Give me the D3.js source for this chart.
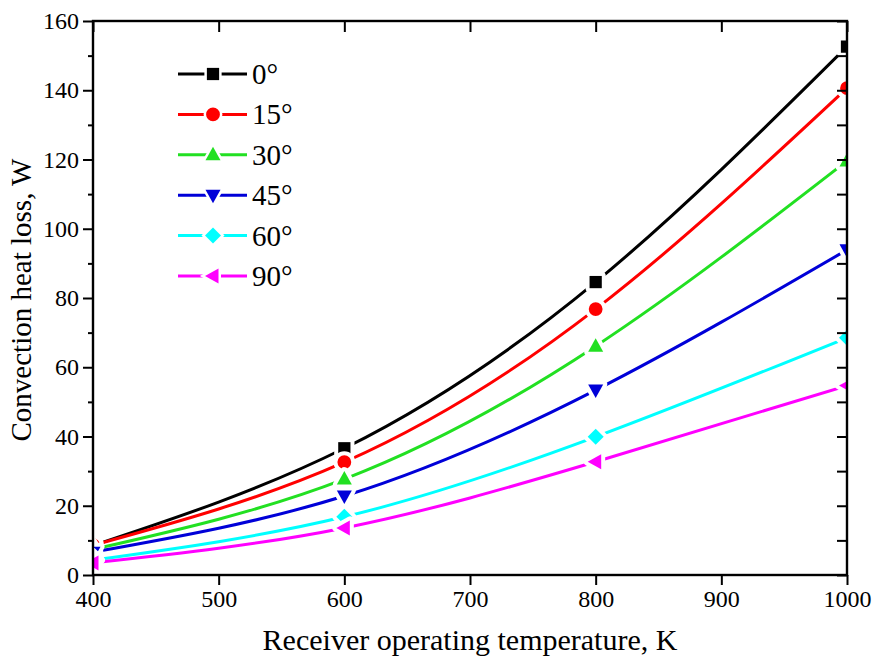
<!DOCTYPE html>
<html>
<head>
<meta charset="utf-8">
<script src="https://cdn.jsdelivr.net/npm/d3@7"></script>
<style>
  body { margin: 0; background: #fff; }
  svg text { font-family: "Liberation Serif", "Times New Roman", serif; }
</style>
</head>
<body>
<div id="chart"></div>
<script>
// data
var temps = [400, 600, 800, 1000];
var angles = ["0°", "15°", "30°", "45°", "60°", "90°"];
var loss0 = [8.5, 36.6, 84.6, 152.6];
var loss15 = [8.6, 32.6, 76.8, 140.6];
var loss30 = [7.4, 27.7, 66.1, 119.6];
var loss45 = [6.6, 22.8, 53.4, 93.9];
var loss60 = [4.3, 16.8, 39.9, 68.5];
var loss90 = [3.5, 13.6, 32.7, 54.7];
var xTicks = [400, 500, 600, 700, 800, 900, 1000];
var yTicks = [0, 20, 40, 60, 80, 100, 120, 140, 160];

var colors = ["#000000", "#ff0000", "#22e022", "#0000d8", "#00ffff", "#ff00ff"];
var shapes = ["square", "circle", "up", "down", "diamond", "left"];
var series = [loss0, loss15, loss30, loss45, loss60, loss90];

// set the dimensions and margins of the graph
var margin = {top: 21, right: 26, bottom: 86, left: 93},
    width = 873 - margin.left - margin.right,
    height = 661 - margin.top - margin.bottom;

var svg = d3.select("#chart")
  .append("svg")
    .attr("width", 873)
    .attr("height", 661)
  .append("g")
    .attr("transform", "translate(" + margin.left + "," + margin.top + ")");

var x = d3.scaleLinear().domain([400, 1000]).range([0, width]);
var y = d3.scaleLinear().domain([0, 160]).range([height, 0]);

svg.append("clipPath").attr("id", "plotclip")
  .append("rect").attr("width", width).attr("height", height);

// marker path for each shape
function markerPath(shape) {
  if (shape == "square") return d3.symbol(d3.symbolSquare, 150)();
  if (shape == "circle") return d3.symbol(d3.symbolCircle, 150)();
  if (shape == "diamond") return "M0,-8L8,0L0,8L-8,0Z";
  if (shape == "up") return "M0,-8L7.5,5.5L-7.5,5.5Z";
  if (shape == "down") return "M0,8L7.5,-5.5L-7.5,-5.5Z";
  return "M-8,0L5.5,-7.5L5.5,7.5Z";
}

var line = d3.line()
  .x(function (d, i) { return x(temps[i]); })
  .y(function (d) { return y(d); })
  .curve(d3.curveNatural);

var plot = svg.append("g").attr("clip-path", "url(#plotclip)");

series.forEach(function (s, k) {
  plot.append("path")
    .datum(s)
    .attr("d", line)
    .attr("fill", "none")
    .attr("stroke", colors[k])
    .attr("stroke-width", 3);
});

// markers with a white halo so the lines stop short of them
series.forEach(function (s, k) {
  plot.selectAll(".m" + k)
    .data(s)
    .enter()
    .append("path")
      .attr("class", "m" + k)
      .attr("d", markerPath(shapes[k]))
      .attr("transform", function (d, i) { return "translate(" + x(temps[i]) + "," + y(d) + ")"; })
      .attr("fill", colors[k])
      .attr("stroke", "white")
      .attr("stroke-width", 8)
      .attr("stroke-linejoin", "round")
      .style("paint-order", "stroke");
});

// Axes: bottom and left outward ticks, top and right inward
svg.append("g")
  .attr("transform", "translate(0," + height + ")")
  .call(d3.axisBottom(x).tickValues(xTicks).tickSize(10).tickPadding(5).tickFormat(d3.format("d")));

svg.append("g")
  .call(d3.axisLeft(y).tickValues(yTicks).tickSize(10).tickPadding(4).tickFormat(d3.format("d")));

// minor ticks on left
svg.append("g")
  .call(d3.axisLeft(y).tickValues(d3.range(10, 160, 20)).tickSize(5).tickFormat(""));

svg.append("g")
  .call(d3.axisTop(x).tickValues(xTicks).tickSize(-11).tickFormat(""));

svg.append("g")
  .attr("transform", "translate(" + width + ",0)")
  .call(d3.axisRight(y).tickValues(d3.range(0, 161, 10)).tickSize(-10).tickFormat(""));

svg.selectAll(".domain").remove();
svg.append("rect")
  .attr("width", width).attr("height", height)
  .attr("fill", "none").attr("stroke", "black").attr("stroke-width", 2.4);

svg.selectAll(".tick line").attr("stroke", "black").attr("stroke-width", 2);
svg.selectAll(".tick text")
  .attr("fill", "black")
  .attr("font-family", "Liberation Serif")
  .style("font-family", "'Liberation Serif', serif")
  .style("font-size", "24px");

// axis titles
svg.append("text")
  .attr("x", width / 2)
  .attr("y", height + 75)
  .attr("text-anchor", "middle")
  .style("font-size", "30px")
  .text("Receiver operating temperature, K");

svg.append("text")
  .attr("transform", "translate(-62," + (height / 2 + 2) + ") rotate(-90)")
  .attr("text-anchor", "middle")
  .style("font-size", "29px")
  .text("Convection heat loss, W");

// legend
var legend = svg.append("g").attr("transform", "translate(85,53)");
angles.forEach(function (a, k) {
  var row = legend.append("g").attr("transform", "translate(0," + (k * 40.4) + ")");
  row.append("line")
    .attr("x1", 0).attr("x2", 69)
    .attr("stroke", colors[k]).attr("stroke-width", 3);
  row.append("path")
    .attr("d", markerPath(shapes[k]))
    .attr("transform", "translate(35,0)")
    .attr("fill", colors[k])
    .attr("stroke", "white")
    .attr("stroke-width", 5)
    .style("paint-order", "stroke");
  row.append("text")
    .attr("x", 74).attr("y", 10)
    .style("font-size", "29px")
    .text(a);
});
</script>
</body>
</html>
